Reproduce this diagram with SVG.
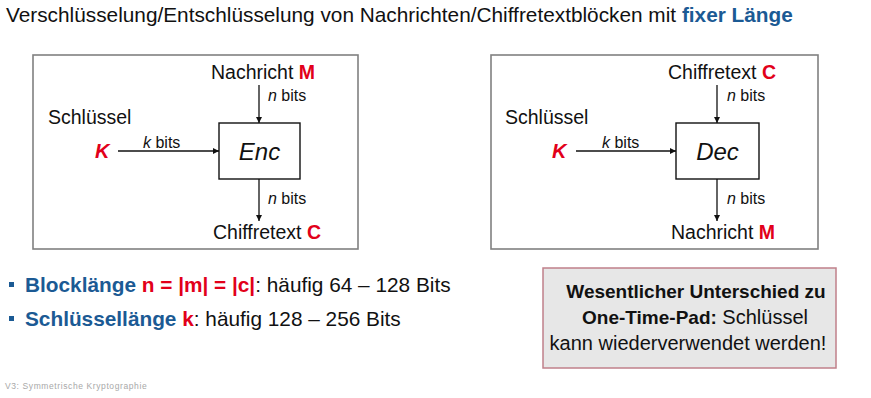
<svg xmlns="http://www.w3.org/2000/svg" width="871" height="398" viewBox="0 0 871 398">
  <style>
    text { font-family: "Liberation Sans", Arial, sans-serif; fill: #111; }
    .title { font-size: 20.8px; }
    .lbl { font-size: 19.5px; }
    .small { font-size: 16px; }
    .red { fill: #e2001a; font-weight: bold; }
    .blue { fill: #1b5a94; font-weight: bold; }
    .frame { fill: #fff; stroke: #808080; stroke-width: 1.6; }
    .block { fill: #fff; stroke: #111; stroke-width: 1.4; }
    .wire { stroke: #111; stroke-width: 1.3; fill: none; marker-end: url(#arr); }
    .bullet { font-size: 20.8px; }
    .note { fill: #e7e7e7; stroke: #c0808a; stroke-width: 1.5; }
    .notetxt { font-size: 20px; text-anchor: middle; }
    .footer { font-size: 8.5px; fill: #a8a8a8; letter-spacing: 0.6px; }
  </style>
  <defs>
    <marker id="arr" viewBox="0 0 10 10" refX="10" refY="5" markerWidth="6" markerHeight="6" markerUnits="userSpaceOnUse" orient="auto">
      <path d="M0,0 L10,5 L0,10 z" fill="#111"/>
    </marker>
  </defs>

  <!-- heading -->
  <text class="title" x="6" y="22">Verschlüsselung/Entschlüsselung von Nachrichten/Chiffretextblöcken mit <tspan class="blue">fixer Länge</tspan></text>

  <!-- encryption panel -->
  <g id="enc-panel">
    <rect class="frame" x="33" y="55" width="325" height="194"/>
    <text class="lbl" x="48" y="124">Schlüssel</text>
    <text class="lbl red" x="95" y="158" style="font-style:italic;font-size:20px">K</text>
    <text class="lbl" x="211" y="79">Nachricht <tspan class="red">M</tspan></text>
    <text class="lbl" x="213" y="239">Chiffretext <tspan class="red">C</tspan></text>
    <text class="small" x="143" y="148"><tspan font-style="italic">k</tspan> bits</text>
    <text class="small" x="268" y="101"><tspan font-style="italic">n</tspan> bits</text>
    <text class="small" x="268" y="204"><tspan font-style="italic">n</tspan> bits</text>
  </g>
  <g id="enc">
    <rect class="block" x="219" y="123" width="81" height="56"/>
    <text x="259.5" y="160" style="font-size:24px;font-style:italic;text-anchor:middle">Enc</text>
  </g>

  <!-- decryption panel -->
  <g id="dec-panel">
    <rect class="frame" x="491" y="55" width="327" height="194"/>
    <text class="lbl" x="505" y="124">Schlüssel</text>
    <text class="lbl red" x="552" y="158" style="font-style:italic;font-size:20px">K</text>
    <text class="lbl" x="668" y="79">Chiffretext <tspan class="red">C</tspan></text>
    <text class="lbl" x="671" y="239">Nachricht <tspan class="red">M</tspan></text>
    <text class="small" x="602" y="148"><tspan font-style="italic">k</tspan> bits</text>
    <text class="small" x="727" y="101"><tspan font-style="italic">n</tspan> bits</text>
    <text class="small" x="727" y="204"><tspan font-style="italic">n</tspan> bits</text>
  </g>
  <g id="dec">
    <rect class="block" x="676" y="123" width="83" height="56"/>
    <text x="717.5" y="160" style="font-size:24px;font-style:italic;text-anchor:middle">Dec</text>
  </g>

  <!-- connectors -->
  <g id="connectors">
    <line class="wire" x1="118" y1="151" x2="219" y2="151"/>
    <line class="wire" x1="259" y1="85" x2="259" y2="123"/>
    <line class="wire" x1="259" y1="179" x2="259" y2="221"/>
    <line class="wire" x1="576" y1="151" x2="676" y2="151"/>
    <line class="wire" x1="717" y1="85" x2="717" y2="123"/>
    <line class="wire" x1="717" y1="179" x2="717" y2="221"/>
  </g>

  <!-- bullet list -->
  <g id="bullets">
    <rect x="9" y="282" width="5" height="5" fill="#1b5a94"/>
    <text class="bullet" x="25" y="292"><tspan class="blue">Blocklänge </tspan><tspan class="red">n = |m| = |c|</tspan>: häufig 64 – 128 Bits</text>
    <rect x="9" y="316" width="5" height="5" fill="#1b5a94"/>
    <text class="bullet" x="25" y="326"><tspan class="blue">Schlüssellänge </tspan><tspan class="red">k</tspan>: häufig 128 – 256 Bits</text>
  </g>

  <!-- remark box -->
  <g id="note">
    <rect class="note" x="543" y="268" width="293" height="100"/>
    <text class="notetxt" x="696" y="298" font-weight="bold" style="font-size:19px">Wesentlicher Unterschied zu</text>
    <text class="notetxt" x="695" y="324"><tspan font-weight="bold" style="font-size:19px">One-Time-Pad:</tspan> Schlüssel</text>
    <text class="notetxt" x="688" y="350">kann wiederverwendet werden!</text>
  </g>

  <text class="footer" x="5" y="389">V3: Symmetrische Kryptographie</text>
</svg>
